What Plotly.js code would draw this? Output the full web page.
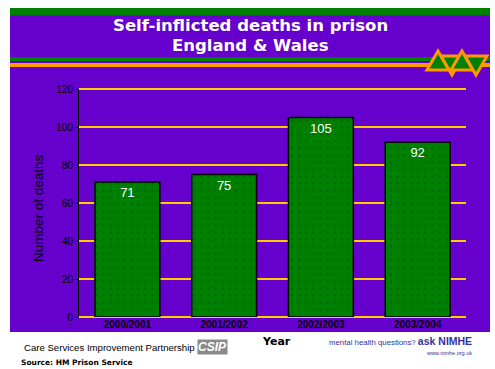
<!DOCTYPE html>
<html>
<head>
<meta charset="utf-8">
<script src="https://cdn.plot.ly/plotly-3.0.1.min.js"></script>
<style>html,body{margin:0;padding:0;background:#fff;}#chart{width:495px;height:369px;}</style>
</head>
<body>
<div id="chart"></div>
<script>
const years = ["2000/2001", "2001/2002", "2002/2003", "2003/2004"];
const deaths = [71, 75, 105, 92];
const yTicks = [0, 20, 40, 60, 80, 100, 120];
const yRange = [0, 120];

const purple = "#6600CC";
const green = "#008000";
const orange = "#FF9900";
const gold = "#FFCC00";

const trace = {
  type: "bar",
  x: years,
  y: deaths,
  text: deaths.map(String),
  textposition: "inside",
  insidetextanchor: "end",
  textangle: 0,
  textfont: {family: "Liberation Sans, Arial, sans-serif", size: 13, color: "#ffffff"},
  marker: {
    color: green,
    line: {color: "#000000", width: 1.5},
    pattern: {shape: ".", fgcolor: "#006400", bgcolor: green, size: 7, solidity: 0.08}
  },
  hoverinfo: "none"
};

const W = 495, H = 369, ml = 79, mr = 29, mt = 89, mb = 52;
const pw = W - ml - mr, ph = H - mt - mb;
function xp(x) { return (x - ml) / pw; }
function yp(y) { return (H - mb - y) / ph; }
function rect(x0, y0, x1, y1, color, layer) {
  return {type: "rect", xref: "paper", yref: "paper", layer: layer || "below",
    x0: xp(x0), x1: xp(x1), y0: yp(y1), y1: yp(y0), line: {width: 0}, fillcolor: color};
}
function pathPx(points, fill, stroke, sw) {
  let d = points.map((p, i) => (i ? "L " : "M ") + xp(p[0]) + " " + yp(p[1])).join(" ") + " Z";
  return {type: "path", xref: "paper", yref: "paper", layer: "above", path: d,
    fillcolor: fill, line: {color: stroke, width: sw}};
}

const bg = [
  rect(10, 8, 490, 332, purple),
  rect(10, 8, 490, 15.5, green),
  rect(10, 57, 490, 61, green),
  rect(10, 63, 490, 67, orange),
];

// gridlines at the tick values, expressed as fractions of the y range (paper refs are not clipped)
const grid = yTicks.map(v => {
  const f = (v - yRange[0]) / (yRange[1] - yRange[0]);
  return {type: "line", xref: "paper", yref: "paper", layer: "below",
    x0: 0, x1: 1, y0: f, y1: f, line: {color: gold, width: 2}};
});

const logo = [
  pathPx([[438, 51], [427, 70], [449, 70]], green, orange, 3),
  pathPx([[441, 56], [463, 56], [452, 75]], green, orange, 3),
  pathPx([[462, 51], [451, 70], [473, 70]], green, orange, 3),
  pathPx([[465, 56], [487, 56], [476, 75]], green, orange, 3),
];

const font = "Liberation Sans, Arial, sans-serif";
function ann(x, y, text, size, color, opts) {
  return Object.assign({xref: "paper", yref: "paper", x: xp(x), y: yp(y), text: text, showarrow: false,
    font: {family: font, size: size, color: color}, xanchor: "left", yanchor: "middle"}, opts || {});
}

const annotations = [
  ann(250, 25, "<b>Self-inflicted deaths in prison</b>", 17, "#ffffff", {xanchor: "center", font: {family: "DejaVu Sans, sans-serif", size: 16.5, color: "#ffffff"}}),
  ann(250, 46, "<b>England &amp; Wales</b>", 17, "#ffffff", {xanchor: "center", font: {family: "DejaVu Sans, sans-serif", size: 16.5, color: "#ffffff"}}),
  ann(38, 208, "Number of deaths", 13.5, "#000000", {xanchor: "center", textangle: -90}),
  ann(276, 341, "<b>Year</b>", 11.5, "#000000", {xanchor: "center", font: {family: "DejaVu Sans, sans-serif", size: 11, color: "#000000"}}),
  ann(22, 347, "Care Services Improvement Partnership", 9.6, "#000000"),
  ann(197, 347, "<b><i>CSIP</i></b>", 12, "#ffffff", {bgcolor: "#8a8a8a", borderpad: 0}),
  ann(19, 362, "<b>Source: HM Prison Service</b>", 7.5, "#000000", {font: {family: "DejaVu Sans, sans-serif", size: 7.5, color: "#000000"}}),
  ann(474, 341, "mental health questions? <b><span style='font-size:10.5px'>ask NIMHE</span></b>", 7.8, "#333399", {xanchor: "right"}),
  ann(474, 353, "www.nimhe.org.uk", 5.5, "#333399", {xanchor: "right"}),
];

const layout = {
  width: W, height: H,
  margin: {l: ml, r: mr, t: mt, b: mb, pad: 0},
  paper_bgcolor: "#ffffff",
  plot_bgcolor: "rgba(0,0,0,0)",
  showlegend: false,
  bargap: 0.33,
  font: {family: font, color: "#000000"},
  xaxis: {
    type: "category",
    showline: false, showgrid: false, zeroline: false, ticks: "",
    tickfont: {family: font, size: 10, color: "#000000", weight: "bold"},
    fixedrange: true
  },
  yaxis: {
    range: yRange,
    tickvals: yTicks,
    showline: true, linecolor: "#000000", linewidth: 1,
    showgrid: false, zeroline: false,
    ticks: "outside", ticklen: 3, tickcolor: "#000000",
    tickfont: {family: font, size: 10, color: "#000000"},
    fixedrange: true
  },
  shapes: bg.concat(grid, logo),
  annotations: annotations
};

Plotly.newPlot("chart", [trace], layout, {staticPlot: true, displayModeBar: false});
</script>
</body>
</html>
